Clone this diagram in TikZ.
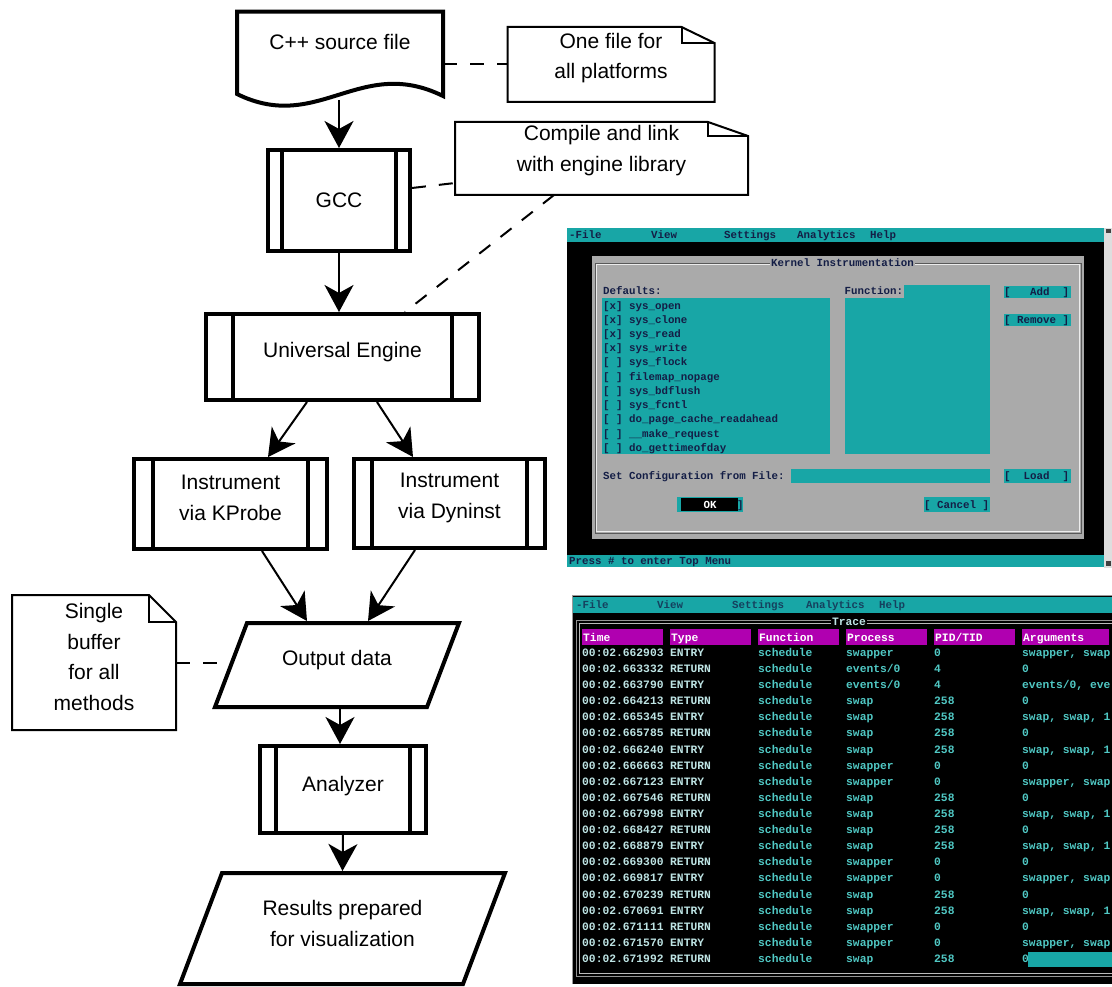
\documentclass[tikz,border=0pt]{standalone}
\usepackage{fontspec}
\setmainfont{Liberation Sans}
\newfontfamily\scrmono{Liberation Mono}
\usetikzlibrary{arrows.meta}
\definecolor{tcyan}{RGB}{24,166,166}
\definecolor{tgray}{RGB}{170,170,170}
\definecolor{tmag}{RGB}{176,0,176}
\definecolor{tdark}{RGB}{20,30,70}
\definecolor{ttime}{RGB}{190,228,228}
\definecolor{tcol}{RGB}{80,200,196}
\definecolor{tstrip}{RGB}{222,222,222}
\tikzset{
  frm/.style={inner sep=0pt, outer sep=0pt},
  proc/.style={draw, line width=4pt, inner sep=0pt, path picture={%
    \draw[line width=4pt] ([xshift=#1]path picture bounding box.north west) -- ([xshift=#1]path picture bounding box.south west);
    \draw[line width=4pt] ([xshift=-#1]path picture bounding box.north east) -- ([xshift=-#1]path picture bounding box.south east);}},
  lbl/.style={font=\fontsize{21}{30.5}\selectfont, align=center, inner sep=0pt},
  arr/.style={line width=2pt, -{Stealth[length=27pt,width=29pt,inset=8pt]}},
  dsh/.style={line width=2pt, dash pattern=on 14pt off 13pt},
  notel/.style={line width=2pt},
  thickline/.style={line width=4pt},
  dtxt/.style={font=\scrmono\bfseries\fontsize{10.8}{12}\selectfont, inner sep=0pt, anchor=base west, text=tdark},
  ttxt/.style={font=\scrmono\bfseries\fontsize{11.3}{12}\selectfont, inner sep=0pt, anchor=base west, text=tcol},
}
\newcommand\notepath[3]{%
  \draw[notel] (#1.north west) -- ([xshift=-#2]#1.north east) -- ([yshift=-#3]#1.north east) -- (#1.south east) -- (#1.south west) -- cycle;
  \draw[notel] ([xshift=-#2]#1.north east) -- ([xshift=-#2,yshift=-#3]#1.north east) -- ([yshift=-#3]#1.north east);}
\begin{document}
\begin{tikzpicture}[x=1pt,y=-1pt]
\fill[white] (0,0) rectangle (1112,987);
\useasboundingbox (0,0) rectangle (1112,987);

% ---------------- flowchart ----------------
\node[frm, lbl, minimum width=206pt, minimum height=60pt] (cpp) at (340,42) {C++ source file};
\draw[thickline] (237,11.6) -- (443,11.6) -- (443,96) .. controls (360,55) and (318,134) .. (237,94) -- cycle;
\coordinate (cppb) at (339,100);

\node[frm, minimum width=207pt, minimum height=75pt, label={[lbl,yshift=6.5pt]center:{One file for\\all platforms}}] (n1) at (611,64.5) {};
\notepath{n1}{33pt}{16pt}
\node[frm, minimum width=293pt, minimum height=73pt, label={[lbl,yshift=8pt]center:{Compile and link\\with engine library}}] (n2) at (601.5,158.5) {};
\notepath{n2}{40pt}{14pt}
\node[frm, minimum width=164pt, minimum height=135pt, label={[lbl,yshift=5.5pt]center:{Single\\buffer\\for all\\methods}}] (n3) at (94,662.5) {};
\notepath{n3}{27pt}{27pt}

\node[proc=14pt, minimum width=142pt, minimum height=101pt, label={[lbl]center:GCC}] (gcc) at (339,200.5) {};
\node[proc=27pt, minimum width=273pt, minimum height=86pt, label={[lbl,yshift=5pt]center:Universal Engine}] (ue) at (342.5,357) {};
\node[proc=19pt, minimum width=193pt, minimum height=90pt, label={[lbl,yshift=6pt]center:{Instrument\\via KProbe}}] (kp) at (230.5,504) {};
\node[proc=18pt, minimum width=191pt, minimum height=89pt, label={[lbl,yshift=5.5pt]center:{Instrument\\via Dyninst}}] (dy) at (449.5,503.5) {};
\node[frm, minimum width=244pt, minimum height=84pt, label={[lbl,yshift=5pt]center:Output data}] (out) at (337,665) {};
\draw[thickline] ([xshift=32pt]out.north west) -- (out.north east) -- ([xshift=-32pt]out.south east) -- (out.south west) -- cycle;
\coordinate (outL) at (232,662.5);
\node[proc=16pt, minimum width=166pt, minimum height=87pt, label={[lbl,yshift=3.5pt]center:Analyzer}] (an) at (343,789.5) {};
\node[frm, minimum width=325pt, minimum height=111pt, label={[lbl,yshift=5pt]center:{Results prepared\\for visualization}}] (res) at (342.5,928.5) {};
\draw[thickline] ([xshift=42pt]res.north west) -- (res.north east) -- ([xshift=-42pt]res.south east) -- (res.south west) -- cycle;

% connectors
\draw[arr] (cppb) -- (gcc.north);
\draw[arr] (gcc.south) -- (gcc.south |- ue.north);
\draw[arr] ([xshift=-35.5pt]ue.south) -- ([xshift=37.5pt]kp.north);
\draw[arr] ([xshift=34.5pt]ue.south) -- ([xshift=-36.5pt]dy.north);
\draw[arr] ([xshift=31.5pt]kp.south) -- ([xshift=-30pt,yshift=2pt]out.north);
\draw[arr] ([xshift=-34.5pt]dy.south) -- ([xshift=31pt,yshift=2pt]out.north);
\draw[arr] ([xshift=3pt,yshift=-2pt]out.south) -- ([xshift=-3pt]an.north);
\draw[arr] (an.south) -- ([yshift=2pt]res.north);

\draw[dsh] (n1.west -| cpp.east) -- (n1.west);
\draw[dsh] ([yshift=12.5pt]gcc.east) -- ([yshift=-24.5pt]n2.west);
\draw[dsh] ([xshift=-47.5pt]n2.south) -- ([xshift=62.5pt]ue.north);
\draw[dsh] (n3.east) -- (outL);

% ---------------- screenshot 1 ----------------
\fill[tstrip] (1104,228) rectangle (1112,568);
\fill[black!75] (1106,229) rectangle (1111,233);
\fill[black!75] (1106,561) rectangle (1111,566);
\fill[black] (567,228) rectangle (1104,567);
\fill[tcyan] (567,228) rectangle (1104,242);
\fill[tcyan] (567,555) rectangle (1104,567);
\foreach \x/\t [count=\i] in {569/-File, 651/View, 724/Settings, 797/Analytics, 870/Help}
  \node[dtxt] (ma\i) at (\x,239) {\t};
\node[dtxt] (stat) at (569,564.5) {Press \# to enter Top Menu};
\fill[tgray] (592,256) rectangle (1084,539);
\draw[black!65, line width=0.8pt] (595,263) rectangle (1081,533);
\draw[white!85!gray, line width=0.6pt] (596.5,264.5) rectangle (1079.5,531.5);
\node[dtxt, anchor=base, fill=tgray, inner xsep=1pt, inner ysep=1pt] (ktitle) at (842.5,266.5) {Kernel Instrumentation};
\node[dtxt] (deflab) at (603,294.5) {Defaults:};
\fill[tcyan] (602,298) rectangle (830,454);
\foreach \s [count=\k from 0] in {{[x] sys\_open},{[x] sys\_clone},{[x] sys\_read},{[x] sys\_write},{[ ] sys\_flock},{[ ] filemap\_nopage},{[ ] sys\_bdflush},{[ ] sys\_fcntl},{[ ] do\_page\_cache\_readahead},{[ ] \_\_make\_request},{[ ] do\_gettimeofday}}
  \node[dtxt] (it\k) at (603,{309.2+14.2*\k}) {\s};
\node[dtxt] (funlab) at (844.5,294.5) {Function:};
\fill[tcyan] (904,285) rectangle (990,298);
\fill[tcyan] (844.5,298) rectangle (990,454);
\fill[tcyan] (1004,286) rectangle (1071,298);
\node[dtxt] (badd) at (1004,295.5) {[~~~Add~~]};
\fill[tcyan] (1004,314) rectangle (1071,326);
\node[dtxt] (brem) at (1004,323.5) {[~Remove~]};
\node[dtxt] (cfglab) at (603,479.5) {Set Configuration from File:};
\fill[tcyan] (790.6,469) rectangle (990,483);
\fill[tcyan] (1004,469) rectangle (1071,483);
\node[dtxt] (bload) at (1004,479.5) {[~~Load~~]};
\fill[tcyan] (677,497) rectangle (743,512);
\fill[black] (681,498) rectangle (738,511);
\node[dtxt, text=white, anchor=base] (bok) at (710,508) {OK};
\node[dtxt] (bokr) at (737,508) {]};
\fill[tcyan] (924,497) rectangle (990,512);
\node[dtxt] (bcan) at (924,508) {[~Cancel~]};

% ---------------- screenshot 2 ----------------
\fill[black] (572,596) rectangle (1112,984);
\draw[gray!80, line width=1pt] (572.5,984) -- (572.5,595.5) -- (1112,595.5);
\fill[tcyan] (573,597) rectangle (1112,613);
\foreach \x/\t [count=\i] in {576/-File, 657/View, 732/Settings, 806/Analytics, 879/Help}
  \node[dtxt, text=tdark!75!tcyan] (mb\i) at (\x,608) {\t};
\draw[gray!85, line width=1pt] (1112,620.5) -- (576.5,620.5) -- (576.5,976.5) -- (1112,976.5);
\draw[gray!55, line width=0.8pt] (1112,623.5) -- (579.5,623.5) -- (579.5,973.5) -- (1112,973.5);
\node[ttxt, anchor=base, fill=black, inner xsep=1pt, inner ysep=1.5pt, text=ttime] (trtitle) at (849,625) {Trace};
\foreach \i in {0,...,4}
  \fill[tmag] ({582+88*\i},629) rectangle ({662.5+88*\i},645);
\fill[tmag] (1022,629) rectangle (1109,645);
\foreach \x/\t [count=\i] in {583/Time, 671/Type, 759/Function, 847/Process, 935/{PID/TID}, 1023/Arguments}
  \node[ttxt, text=white] (hd\i) at (\x,641) {\t};
\foreach \tm/\ty/\pr/\pd/\ar [count=\i from 0] in {
  662903/ENTRY/swapper/0/{swapper, swap},
  663332/RETURN/{events/0}/4/0,
  663790/ENTRY/{events/0}/4/{events/0, eve},
  664213/RETURN/swap/258/0,
  665345/ENTRY/swap/258/{swap, swap, 1},
  665785/RETURN/swap/258/0,
  666240/ENTRY/swap/258/{swap, swap, 1},
  666663/RETURN/swapper/0/0,
  667123/ENTRY/swapper/0/{swapper, swap},
  667546/RETURN/swap/258/0,
  667998/ENTRY/swap/258/{swap, swap, 1},
  668427/RETURN/swap/258/0,
  668879/ENTRY/swap/258/{swap, swap, 1},
  669300/RETURN/swapper/0/0,
  669817/ENTRY/swapper/0/{swapper, swap},
  670239/RETURN/swap/258/0,
  670691/ENTRY/swap/258/{swap, swap, 1},
  671111/RETURN/swapper/0/0,
  671570/ENTRY/swapper/0/{swapper, swap},
  671992/RETURN/swap/258/0}{
  \node[ttxt, text=ttime] (tm\i) at (582,{656.3+16.12*\i}) {00:02.\tm};
  \node[ttxt, text=ttime] (ty\i) at (670,{656.3+16.12*\i}) {\ty};
  \node[ttxt] (fn\i) at (758,{656.3+16.12*\i}) {schedule};
  \node[ttxt] (pr\i) at (846,{656.3+16.12*\i}) {\pr};
  \node[ttxt] (pd\i) at (934,{656.3+16.12*\i}) {\pd};
  \node[ttxt] (ar\i) at (1022,{656.3+16.12*\i}) {\ar};
}
\fill[tcyan] (1028,952) rectangle (1112,967);
\end{tikzpicture}
\end{document}
